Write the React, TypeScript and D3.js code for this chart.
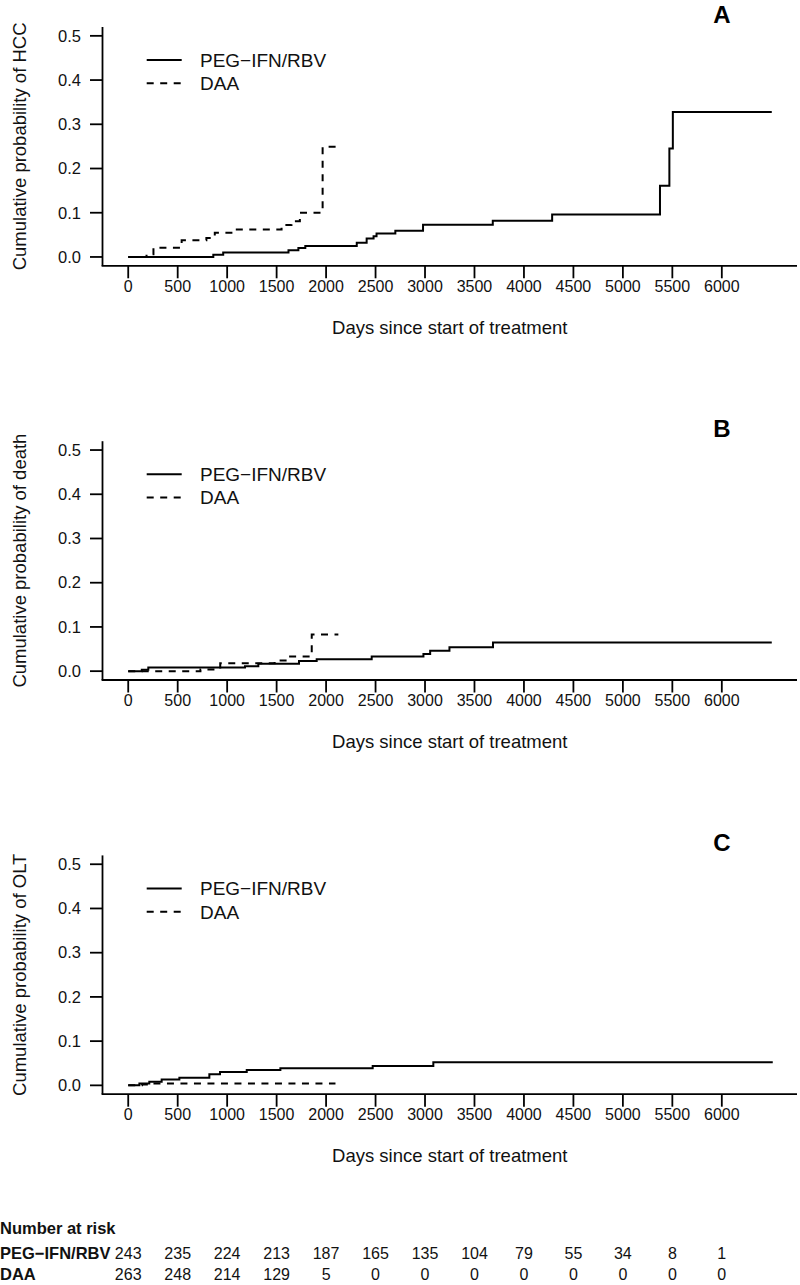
import React from "react";
import * as d3 from "d3";

// ---- tick values ----
const xTickValues = [0, 500, 1000, 1500, 2000, 2500, 3000, 3500, 4000, 4500, 5000, 5500, 6000];
const yTickValues = [0, 0.1, 0.2, 0.3, 0.4, 0.5];

// ---- Panel A: HCC ----
const hccPegDays = [0, 860, 960, 1620, 1720, 1790, 2310, 2410, 2480, 2510, 2700, 2980, 3685, 4285, 5375, 5470, 5505, 6505];
const hccPegProb = [0, 0.005, 0.010, 0.015, 0.020, 0.025, 0.032, 0.042, 0.047, 0.053, 0.059, 0.073, 0.082, 0.096, 0.161, 0.245, 0.328, 0.328];
const hccDaaDays = [0, 185, 255, 540, 790, 875, 1060, 1550, 1650, 1735, 1965, 2125];
const hccDaaProb = [0, 0.006, 0.021, 0.038, 0.043, 0.055, 0.062, 0.072, 0.081, 0.100, 0.249, 0.249];

// ---- Panel B: death ----
const deathPegDays = [0, 137, 203, 1180, 1315, 1726, 1905, 2461, 2984, 3052, 3247, 3687, 6505];
const deathPegProb = [0, 0.003, 0.008, 0.011, 0.017, 0.023, 0.027, 0.033, 0.039, 0.046, 0.054, 0.065, 0.065];
const deathDaaDays = [0, 730, 880, 930, 1480, 1620, 1855, 2124];
const deathDaaProb = [0, 0.004, 0.008, 0.018, 0.024, 0.033, 0.083, 0.083];

// ---- Panel C: OLT ----
const oltPegDays = [0, 113, 213, 338, 517, 820, 928, 1198, 1538, 2471, 3084, 6515];
const oltPegProb = [0, 0.004, 0.008, 0.013, 0.017, 0.025, 0.030, 0.035, 0.0385, 0.044, 0.052, 0.052];
const oltDaaDays = [0, 140, 200, 2095];
const oltDaaProb = [0, 0.002, 0.004, 0.004];

// ---- labels ----
const panelLetters = ["A", "B", "C"];
const yLabels = [
  "Cumulative probability of HCC",
  "Cumulative probability of death",
  "Cumulative probability of OLT",
];
const seriesNames = ["PEG\u2212IFN/RBV", "DAA"];
const xLabel = "Days since start of treatment";

// ---- number at risk ----
const riskTitle = "Number at risk";
const pegAtRisk = [243, 235, 224, 213, 187, 165, 135, 104, 79, 55, 34, 8, 1];
const daaAtRisk = [263, 248, 214, 129, 5, 0, 0, 0, 0, 0, 0, 0, 0];

const zip = (a: number[], b: number[]) => a.map((v, i) => [v, b[i]] as [number, number]);

const panels = [
  { letter: panelLetters[0], ylab: yLabels[0], peg: zip(hccPegDays, hccPegProb), daa: zip(hccDaaDays, hccDaaProb) },
  { letter: panelLetters[1], ylab: yLabels[1], peg: zip(deathPegDays, deathPegProb), daa: zip(deathDaaDays, deathDaaProb) },
  { letter: panelLetters[2], ylab: yLabels[2], peg: zip(oltPegDays, oltPegProb), daa: zip(oltDaaDays, oltDaaProb) },
];

const W = 800;
const H = 1285;
const FONT = "'Liberation Sans', Arial, Helvetica, sans-serif";
const PANEL_STEP = 414.2;
const plotLeft = 102.5;
const plotRight = 797;
const plotTop = 27;
const plotBottom = 265.8;

const x = d3.scaleLinear().domain([-260, 6760]).range([plotLeft, plotRight]);
const y = d3.scaleLinear().domain([-0.02, 0.52]).range([plotBottom, plotTop]);

const stepLine = d3
  .line<[number, number]>()
  .x((d) => x(d[0]))
  .y((d) => y(d[1]))
  .curve(d3.curveStepAfter);

function Panel({ p, offset }: { p: (typeof panels)[number]; offset: number }) {
  const legendY1 = 60;
  const legendY2 = 83.3;
  return (
    <g transform={`translate(0,${offset})`}>
      {/* axes */}
      <line x1={plotLeft} x2={plotLeft} y1={plotTop} y2={plotBottom} stroke="#000" strokeWidth={1.8} />
      <line x1={plotLeft - 0.9} x2={plotRight} y1={plotBottom} y2={plotBottom} stroke="#000" strokeWidth={1.8} />
      {yTickValues.map((t) => (
        <g key={"y" + t}>
          <line x1={90} x2={plotLeft} y1={y(t)} y2={y(t)} stroke="#000" strokeWidth={1.8} />
          <text x={81} y={y(t)} dy="0.35em" textAnchor="end" fontSize={16.5} fontFamily={FONT} fill="#111">
            {d3.format(".1f")(t)}
          </text>
        </g>
      ))}
      {xTickValues.map((t) => (
        <g key={"x" + t}>
          <line x1={x(t)} x2={x(t)} y1={plotBottom} y2={plotBottom + 12.5} stroke="#000" strokeWidth={1.8} />
          <text x={x(t)} y={291.5} textAnchor="middle" fontSize={16} fontFamily={FONT} fill="#111">
            {t}
          </text>
        </g>
      ))}
      <text
        x={(plotLeft + plotRight) / 2}
        y={334}
        textAnchor="middle"
        fontSize={18.5}
        fontFamily={FONT}
        fill="#111"
      >
        {xLabel}
      </text>
      <text
        transform={`translate(26,${(plotTop + plotBottom) / 2}) rotate(-90)`}
        textAnchor="middle"
        fontSize={18.5}
        fontFamily={FONT}
        fill="#111"
      >
        {p.ylab}
      </text>
      {/* panel letter */}
      <text x={x(6000)} y={23} textAnchor="middle" fontSize={24} fontWeight="bold" fontFamily={FONT} fill="#000">
        {p.letter}
      </text>
      {/* legend */}
      <line x1={146.7} x2={181.7} y1={legendY1} y2={legendY1} stroke="#000" strokeWidth={2} />
      <line x1={146.7} x2={181.7} y1={legendY2} y2={legendY2} stroke="#000" strokeWidth={2} strokeDasharray="7,6.5" />
      <text x={200} y={legendY1} dy="0.36em" fontSize={19} fontFamily={FONT} fill="#111">
        {seriesNames[0]}
      </text>
      <text x={200} y={legendY2} dy="0.36em" fontSize={19} fontFamily={FONT} fill="#111">
        {seriesNames[1]}
      </text>
      {/* curves */}
      <path d={stepLine(p.peg) || ""} fill="none" stroke="#000" strokeWidth={2} />
      <path d={stepLine(p.daa) || ""} fill="none" stroke="#000" strokeWidth={2} strokeDasharray="7,6.5" />
    </g>
  );
}

export default function App() {
  const rowTitleY = 1234;
  const rowPegY = 1259;
  const rowDaaY = 1280;
  return (
    <svg
      width={W}
      height={H}
      viewBox={`0 0 ${W} ${H}`}
      style={{ position: "absolute", left: 0, top: 0, background: "#fff" }}
    >
      <rect x={0} y={0} width={W} height={H} fill="#fff" />
      {panels.map((p, i) => (
        <Panel key={p.letter} p={p} offset={i * PANEL_STEP} />
      ))}
      <g>
        <text x={0} y={rowTitleY} fontSize={16.5} fontWeight="bold" fontFamily={FONT} fill="#111">
          {riskTitle}
        </text>
        <text x={0} y={rowPegY} fontSize={16.5} fontWeight="bold" fontFamily={FONT} fill="#111">
          {seriesNames[0]}
        </text>
        <text x={0} y={rowDaaY} fontSize={16.5} fontWeight="bold" fontFamily={FONT} fill="#111">
          {seriesNames[1]}
        </text>
        {xTickValues.map((t, i) => (
          <g key={"r" + t}>
            <text x={x(t)} y={rowPegY} textAnchor="middle" fontSize={16} fontFamily={FONT} fill="#111">
              {pegAtRisk[i]}
            </text>
            <text x={x(t)} y={rowDaaY} textAnchor="middle" fontSize={16} fontFamily={FONT} fill="#111">
              {daaAtRisk[i]}
            </text>
          </g>
        ))}
      </g>
    </svg>
  );
}
